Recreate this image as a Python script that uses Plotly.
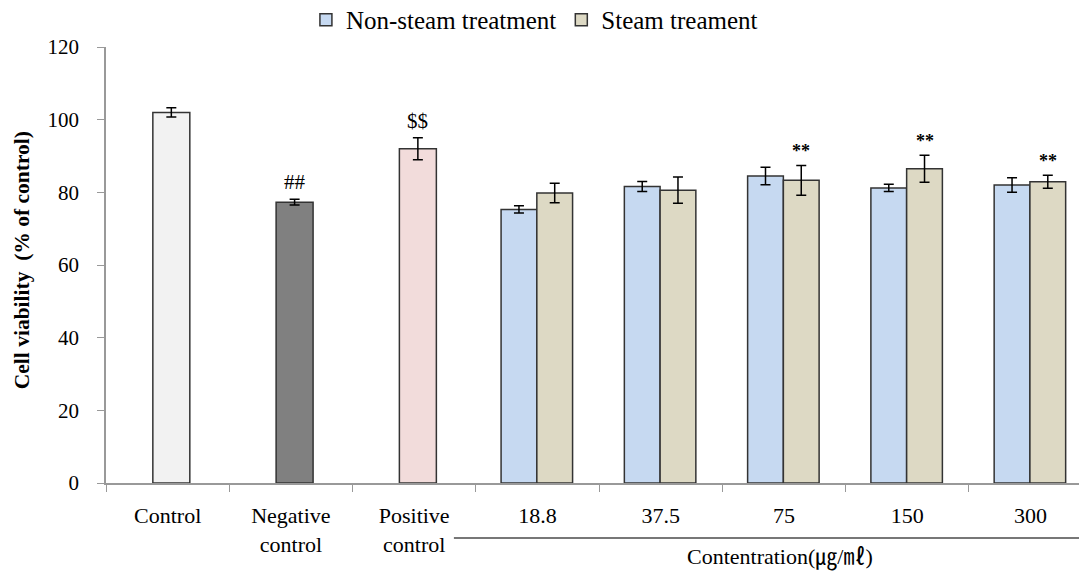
import plotly.graph_objects as go

# ---- data ----
categories = ["Control", "Negative<br>control", "Positive<br>control", "18.8", "37.5", "75", "150", "300"]
control_cats = ["Control", "Negative<br>control", "Positive<br>control"]
control_vals = [102.0, 77.3, 92.0]
control_errs = [1.3, 0.8, 3.0]
control_colors = ["#f2f2f2", "#808080", "#f2dcdb"]
control_marks = ["", "##", "$$"]

conc_cats = ["18.8", "37.5", "75", "150", "300"]
nonsteam_vals = [75.3, 81.6, 84.5, 81.2, 82.0]
nonsteam_errs = [1.0, 1.4, 2.4, 1.0, 2.0]
steam_vals = [79.8, 80.6, 83.3, 86.5, 82.9]
steam_errs = [2.7, 3.6, 4.1, 3.7, 1.8]
steam_marks = ["", "", "**", "**", "**"]

FONT = "Liberation Serif, Times New Roman, Noto Sans CJK KR, serif"
OUTLINE = dict(color="#333333", width=1.5)

fig = go.Figure()

fig.add_trace(go.Bar(
    x=control_cats, y=control_vals, width=0.3, offset=-0.12,
    marker=dict(color=control_colors, line=OUTLINE),
    error_y=dict(type="data", array=control_errs, color="black", thickness=1.5, width=5),
    showlegend=False,
))
fig.add_trace(go.Bar(
    x=conc_cats, y=nonsteam_vals, width=0.29, offset=-0.295, name="Non-steam treatment",
    marker=dict(color="#c6d9f1", line=OUTLINE),
    error_y=dict(type="data", array=nonsteam_errs, color="black", thickness=1.5, width=5),
))
fig.add_trace(go.Bar(
    x=conc_cats, y=steam_vals, width=0.29, offset=-0.005, name="Steam treament",
    marker=dict(color="#ddd9c4", line=OUTLINE),
    error_y=dict(type="data", array=steam_errs, color="black", thickness=1.5, width=5),
))

annotations = []
for c, v, e, m in zip(control_cats, control_vals, control_errs, control_marks):
    if m:
        annotations.append(dict(x=categories.index(c) + 0.03, y=v + e, xref="x", yref="y", text=m,
                                showarrow=False, yanchor="bottom", yshift=3,
                                font=dict(family=FONT, size=21, color="black")))
for c, v, e, m in zip(conc_cats, steam_vals, steam_errs, steam_marks):
    if m:
        annotations.append(dict(x=categories.index(c) + 0.14, y=v + e, xref="x", yref="y",
                                text="<b>" + m + "</b>", showarrow=False, yanchor="bottom", yshift=2,
                                font=dict(family=FONT, size=18, color="black")))
annotations.append(dict(x=0.688, y=-0.17, xref="paper", yref="paper", text="Contentration(㎍/㎖)",
                        showarrow=False, xanchor="center", yanchor="middle",
                        font=dict(family=FONT, size=22, color="black")))
annotations.append(dict(x=-0.0857, y=0.511, xref="paper", yref="paper",
                        text="<b>Cell viability  (% of control)</b>", textangle=-90,
                        showarrow=False, xanchor="center", yanchor="middle",
                        font=dict(family=FONT, size=21.5, color="black")))

fig.update_layout(
    width=1079, height=568,
    margin=dict(l=98, r=1, t=39, b=93, autoexpand=False),
    paper_bgcolor="white", plot_bgcolor="white",
    barmode="overlay",
    font=dict(family=FONT, size=20, color="black"),
    annotations=annotations,
    shapes=[dict(type="line", xref="paper", yref="paper", x0=0.355, x1=1.0, y0=-0.126, y1=-0.126,
                 line=dict(color="#777777", width=2))],
    legend=dict(orientation="h", x=0.204, xanchor="left", y=1.062, yanchor="middle",
                font=dict(family=FONT, size=25, color="black"), bgcolor="rgba(0,0,0,0)",
                itemwidth=30, tracegroupgap=0),
    xaxis=dict(type="category", categoryorder="array", categoryarray=categories,
               range=[-0.5, 7.45], tickson="boundaries", ticks="outside", ticklen=7,
               tickcolor="#999999", showline=True, linecolor="#999999", linewidth=1.5,
               showgrid=False, ticklabelstandoff=12,
               tickfont=dict(family=FONT, size=22, color="black")),
    yaxis=dict(range=[0, 120], dtick=20, ticks="outside", ticklen=7, tickcolor="#999999",
               showline=True, linecolor="#999999", linewidth=1.5, showgrid=False, zeroline=False,
               ticklabelstandoff=14,
               tickfont=dict(family=FONT, size=21, color="black")),
)

fig.write_html("out.html")
